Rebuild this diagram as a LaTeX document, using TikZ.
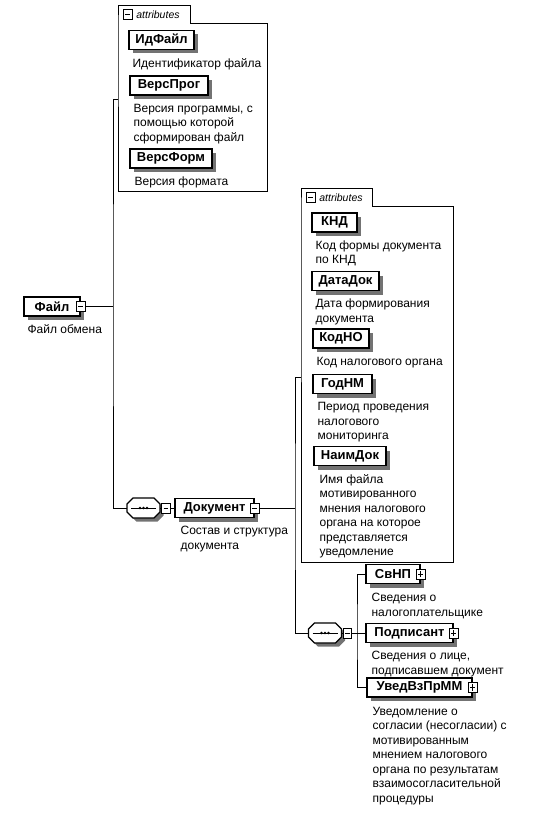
\documentclass[tikz,border=0pt]{standalone}
\usepackage{fontspec}
\setmainfont{Liberation Sans}
\usetikzlibrary{positioning}
\definecolor{shd}{RGB}{115,115,115}
\newcommand{\elemfont}{\bfseries\fontsize{13}{15}\selectfont}
\newcommand{\descfont}{\fontsize{12}{14.5}\selectfont}
\newcommand{\tabfont}{\itshape\fontsize{10.5}{12}\selectfont}
\newcommand{\SW}{16.5}
\newcommand{\SH}{10}
\newcommand{\SC}{6}
% octagon of a sequence compositor: x, y, options
\newcommand{\octo}[3]{%
  \filldraw[#3] ({#1-\SW+\SC},{#2-\SH}) -- ({#1+\SW-\SC},{#2-\SH})
    -- ({#1+\SW},{#2-\SH+\SC}) -- ({#1+\SW},{#2+\SH-\SC})
    -- ({#1+\SW-\SC},{#2+\SH}) -- ({#1-\SW+\SC},{#2+\SH})
    -- ({#1-\SW},{#2+\SH-\SC}) -- ({#1-\SW},{#2-\SH+\SC}) -- cycle;}
% sequence compositor: name, x, y
\newcommand{\seqbox}[3]{%
  \octo{#2+3.5}{#3+3.5}{fill=shd, draw=none}
  \octo{#2}{#3}{fill=white, draw=black, line width=1.1pt}
  \draw[line width=0.9pt] ({#2-\SW+4},#3) -- ({#2+\SW-4},#3);
  \foreach \d in {-3.5,0,3.5} { \fill ({#2+\d},#3) circle (1.4pt); }
  \node[inner sep=0pt, minimum width=33pt, minimum height=20pt] (#1) at (#2,#3) {};}

\begin{document}
\begin{tikzpicture}[x=1pt, y=-1pt,
    wire/.style={draw=black, line width=0.8pt},
    boxline/.style={draw=black, line width=1pt},
    elem/.style={draw=black, line width=1.2pt, fill=white, minimum width=#1,
      minimum height=19pt, inner sep=0pt, font=\elemfont,
      preaction={fill=shd, draw=none, transform canvas={shift={(4pt,-4pt)}}}},
    desc/.style={font=\descfont, align=left, inner sep=0pt},
    tgl/.style={draw=black, line width=0.7pt, fill=white, minimum width=8.5pt,
      minimum height=10pt, inner sep=0pt},
    minus/.style={tgl, path picture={
      \draw[line width=0.7pt] ([xshift=1.8pt]path picture bounding box.west)
        -- ([xshift=-1.8pt]path picture bounding box.east);}},
    plus/.style={tgl, path picture={
      \draw[line width=0.7pt] ([xshift=1.8pt]path picture bounding box.west)
        -- ([xshift=-1.8pt]path picture bounding box.east);
      \draw[line width=0.7pt] ([yshift=1.8pt]path picture bounding box.south)
        -- ([yshift=-1.8pt]path picture bounding box.north);}},
    attr/.style={inner sep=0pt, anchor=north west},
    tabtxt/.style={font=\tabfont, inner sep=0pt},
  ]
  \useasboundingbox (0,0) rectangle (536,821);

  %% ================= root element =================
  \node[elem=56pt] (fajl) at (52,306.5) {Файл\hspace{5pt}};
  \node[minus] (fajl-m) at (fajl.east) {};
  \node[desc, below right=8pt and 4pt of fajl.south west] (fajl-d) {Файл обмена};

  %% ================= attributes of Файл =================
  \node[attr, minimum width=149pt, minimum height=167pt] (attrA) at (118,24) {};
  \node[attr, anchor=south west, minimum width=72pt, minimum height=18pt] (tabA) at (attrA.north west) {};
  \draw[boxline] (attrA.north west) -- (tabA.north west) -- (tabA.north east)
    -- (tabA.south east) -- (attrA.north east) -- (attrA.south east)
    -- (attrA.south west) -- cycle;
  \node[minus, right=5pt of tabA.west] (tabA-m) {};
  \node[tabtxt, right=4pt of tabA-m] (tabA-t) {attributes};

  \node[elem=65pt] (idfajl) at (161.5,40) {ИдФайл};
  \node[desc, below right=8pt and 4pt of idfajl.south west] (idfajl-d) {Идентификатор файла};
  \node[elem=78pt] (versprog) at (169,85.5) {ВерсПрог};
  \node[desc, below right=8pt and 4pt of versprog.south west] (versprog-d)
    {Версия программы, с\\помощью которой\\сформирован файл};
  \node[elem=82pt] (versform) at (171,158.5) {ВерсФорм};
  \node[desc, below right=8pt and 5pt of versform.south west] (versform-d) {Версия формата};

  %% ---- trunk of Файл ----
  \coordinate (trunkA) at (113,306.5);
  \coordinate (attrA-in) at ([yshift=-75pt]attrA.north west);
  \seqbox{seqA}{143.5}{508}
  \node[minus] (seqA-m) at (166,508) {};
  \draw[wire] (fajl-m.east) -- (trunkA);
  \draw[wire] (attrA-in) -| (trunkA) |- (seqA.west);
  \draw[wire] (seqA.east) -- (seqA-m.west);

  %% ================= Документ =================
  \node[elem=79pt] (dok) at (214.5,508) {Документ\hspace{5pt}};
  \node[minus] (dok-m) at (dok.east) {};
  \node[desc, below right=8pt and 6pt of dok.south west] (dok-d) {Состав и структура\\документа};
  \draw[wire] (seqA-m.east) -- (dok.west);

  %% ================= attributes of Документ =================
  \node[attr, minimum width=152pt, minimum height=356pt] (attrB) at (301,206) {};
  \node[attr, anchor=south west, minimum width=71pt, minimum height=17pt] (tabB) at (attrB.north west) {};
  \draw[boxline] (attrB.north west) -- (tabB.north west) -- (tabB.north east)
    -- (tabB.south east) -- (attrB.north east) -- (attrB.south east)
    -- (attrB.south west) -- cycle;
  \node[minus, right=5pt of tabB.west] (tabB-m) {};
  \node[tabtxt, right=4pt of tabB-m] (tabB-t) {attributes};

  \node[elem=45pt] (knd) at (334.5,222.5) {КНД};
  \node[desc, below right=8pt and 4pt of knd.south west] (knd-d) {Код формы документа\\по КНД};
  \node[elem=67pt] (datadok) at (345.5,281) {ДатаДок};
  \node[desc, below right=8pt and 4pt of datadok.south west] (datadok-d) {Дата формирования\\документа};
  \node[elem=56pt] (kodno) at (341,338.5) {КодНО};
  \node[desc, below right=8pt and 4pt of kodno.south west] (kodno-d) {Код налогового органа};
  \node[elem=59pt] (godnm) at (342.5,384) {ГодНМ};
  \node[desc, below right=8pt and 5pt of godnm.south west] (godnm-d)
    {Период проведения\\налогового\\мониторинга};
  \node[elem=72pt] (naimdok) at (350,456) {НаимДок};
  \node[desc, below right=8pt and 6pt of naimdok.south west] (naimdok-d)
    {Имя файла\\мотивированного\\мнения налогового\\органа на которое\\представляется\\уведомление};

  %% ---- trunk of Документ ----
  \coordinate (trunkB) at (295,508);
  \coordinate (attrB-in) at ([yshift=-171pt]attrB.north west);
  \seqbox{seqB}{325}{633}
  \node[minus] (seqB-m) at (347.5,633) {};
  \draw[wire] (dok-m.east) -- (trunkB);
  \draw[wire] (attrB-in) -| (trunkB) |- (seqB.west);
  \draw[wire] (seqB.east) -- (seqB-m.west);

  %% ================= children of Документ =================
  \node[elem=54pt] (svnp) at (393,574) {СвНП\hspace{6pt}};
  \node[plus] (svnp-p) at (svnp.east) {};
  \node[desc, below right=9pt and 6pt of svnp.south west] (svnp-d) {Сведения о\\налогоплательщике};
  \node[elem=87pt] (podp) at (409.5,633) {Подписант\hspace{6pt}};
  \node[plus] (podp-p) at (podp.east) {};
  \node[desc, below right=8pt and 6pt of podp.south west] (podp-d) {Сведения о лице,\\подписавшем документ};
  \node[elem=105pt] (uved) at (419.5,687.5) {УведВзПрММ\hspace{6pt}};
  \node[plus] (uved-p) at (uved.east) {};
  \node[desc, below right=9pt and 6pt of uved.south west] (uved-d)
    {Уведомление о\\согласии (несогласии) с\\мотивированным\\мнением налогового\\органа по результатам\\взаимосогласительной\\процедуры};

  \coordinate (trunkC) at (357,633);
  \draw[wire] (seqB-m.east) -- (trunkC);
  \draw[wire] (svnp.west) -| (trunkC) |- (uved.west);
  \draw[wire] (trunkC) -- (podp.west);

\end{tikzpicture}
\end{document}
